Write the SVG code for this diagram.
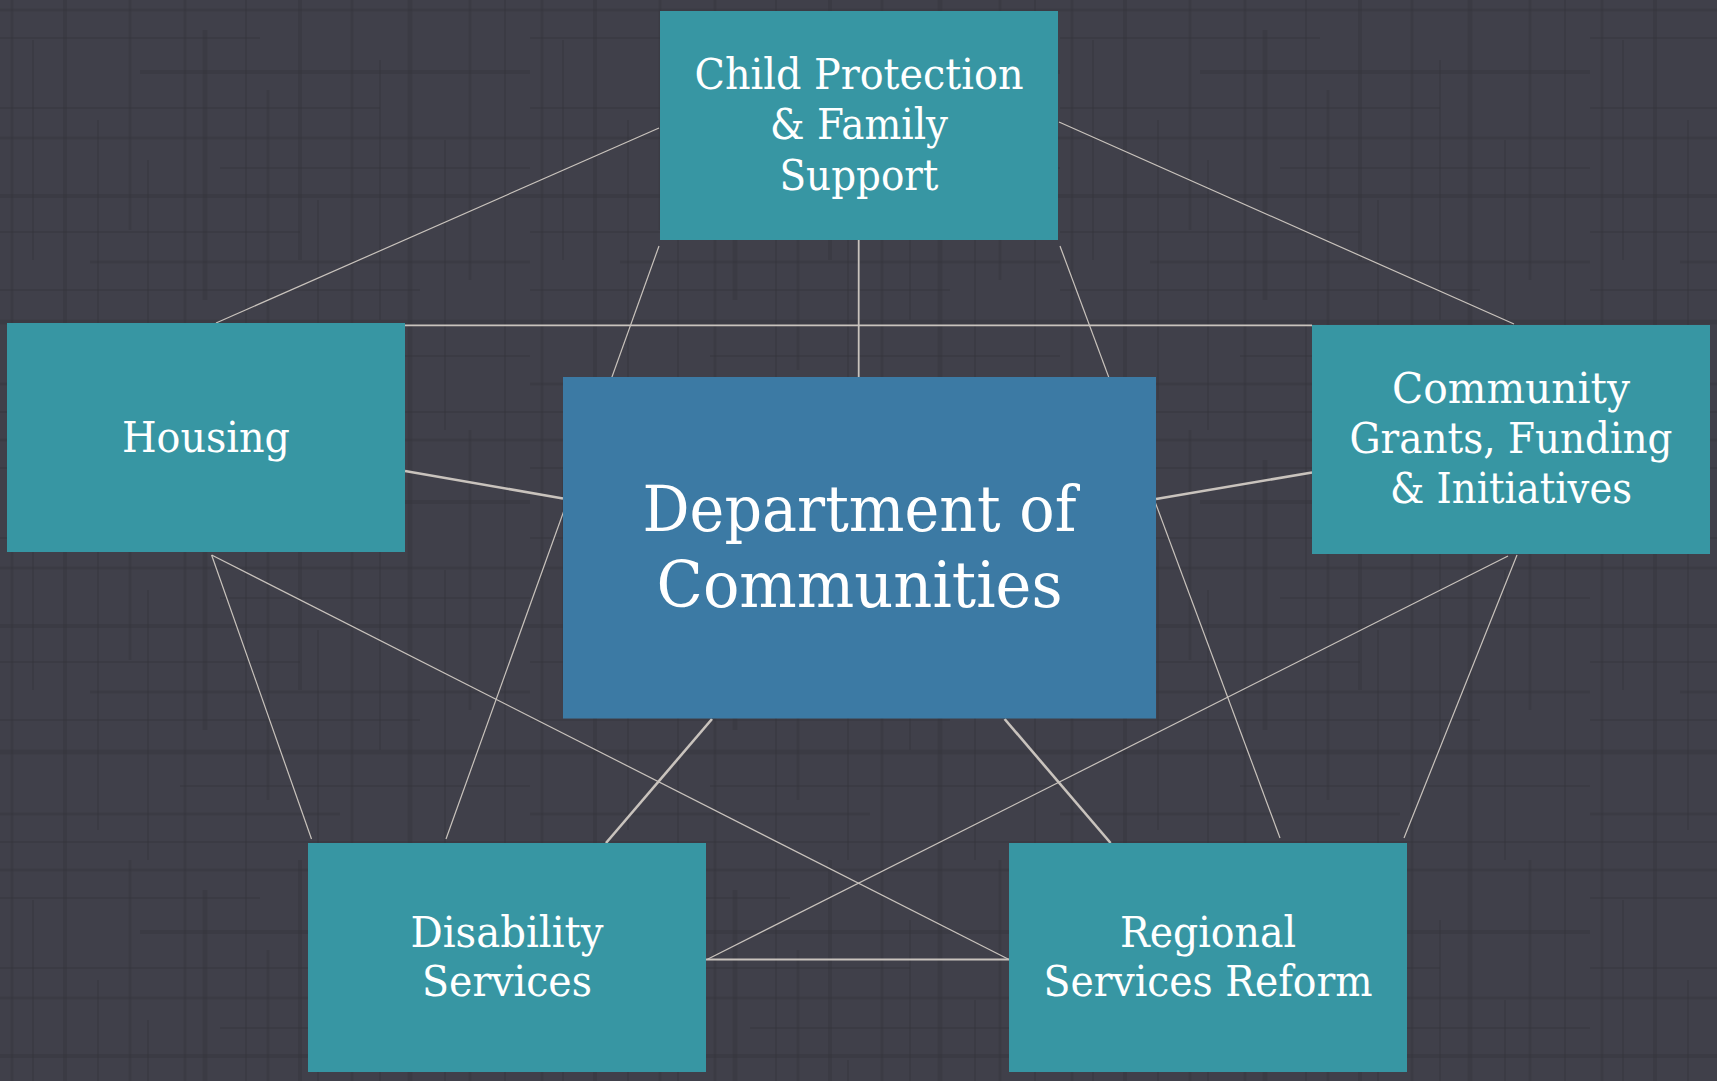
<svg xmlns="http://www.w3.org/2000/svg" width="1717" height="1081" viewBox="0 0 1717 1081">
<style>
.bg{fill:#40404a}
.tex line{stroke:#35353d;stroke-opacity:.5}
.node{fill:#3796a3}
.main{fill:#3c7aa4}
.lbl{font-family:"DejaVu Serif","Liberation Serif",serif;font-size:43px;fill:#ffffff;text-anchor:middle}
.big{font-size:64px}
.thin{stroke:#c9c3bd;stroke-width:1.2;fill:none}
.mid{stroke:#c9c3bd;stroke-width:1.8;fill:none}
.thick{stroke:#c9c3bd;stroke-width:2.6;fill:none}
</style>
<defs>
<pattern id="hatch" width="530" height="430" patternUnits="userSpaceOnUse">
<g class="tex">
<line x1="12" y1="0" x2="12" y2="430" stroke-width="3"/>
<line x1="33" y1="40" x2="33" y2="260" stroke-width="2"/>
<line x1="65" y1="0" x2="65" y2="430" stroke-width="4"/>
<line x1="98" y1="120" x2="98" y2="400" stroke-width="2"/>
<line x1="130" y1="0" x2="130" y2="230" stroke-width="3"/>
<line x1="148" y1="160" x2="148" y2="430" stroke-width="2"/>
<line x1="185" y1="0" x2="185" y2="430" stroke-width="3"/>
<line x1="205" y1="30" x2="205" y2="300" stroke-width="5"/>
<line x1="246" y1="0" x2="246" y2="430" stroke-width="2"/>
<line x1="268" y1="90" x2="268" y2="370" stroke-width="3"/>
<line x1="300" y1="0" x2="300" y2="260" stroke-width="4"/>
<line x1="318" y1="200" x2="318" y2="430" stroke-width="2"/>
<line x1="352" y1="0" x2="352" y2="430" stroke-width="3"/>
<line x1="380" y1="60" x2="380" y2="320" stroke-width="2"/>
<line x1="410" y1="0" x2="410" y2="430" stroke-width="5"/>
<line x1="445" y1="140" x2="445" y2="430" stroke-width="2"/>
<line x1="470" y1="0" x2="470" y2="280" stroke-width="3"/>
<line x1="505" y1="0" x2="505" y2="430" stroke-width="2"/>
<line x1="0" y1="10" x2="530" y2="10" stroke-width="3"/>
<line x1="0" y1="38" x2="260" y2="38" stroke-width="2"/>
<line x1="140" y1="72" x2="530" y2="72" stroke-width="4"/>
<line x1="0" y1="108" x2="380" y2="108" stroke-width="2"/>
<line x1="0" y1="138" x2="530" y2="138" stroke-width="3"/>
<line x1="220" y1="168" x2="530" y2="168" stroke-width="2"/>
<line x1="0" y1="196" x2="530" y2="196" stroke-width="4"/>
<line x1="0" y1="232" x2="300" y2="232" stroke-width="2"/>
<line x1="90" y1="262" x2="530" y2="262" stroke-width="3"/>
<line x1="0" y1="290" x2="420" y2="290" stroke-width="2"/>
<line x1="0" y1="322" x2="530" y2="322" stroke-width="5"/>
<line x1="180" y1="356" x2="530" y2="356" stroke-width="2"/>
<line x1="0" y1="384" x2="340" y2="384" stroke-width="3"/>
<line x1="0" y1="412" x2="530" y2="412" stroke-width="2"/>
</g>
</pattern>
</defs>
<rect class="bg" x="0" y="0" width="1717" height="1081"/>
<rect x="0" y="0" width="1717" height="1081" fill="url(#hatch)"/>

<g id="connectors">
<line class="thin" x1="659" y1="128" x2="216" y2="323"/>
<line class="thin" x1="1059" y1="122" x2="1514" y2="324"/>
<line class="thin" x1="211.6" y1="555" x2="311.5" y2="839"/>
<line class="thin" x1="1517" y1="555" x2="1404" y2="838"/>
<line class="mid" x1="706" y1="959.5" x2="1009" y2="959.5"/>
<line class="thin" x1="659" y1="246" x2="446" y2="839"/>
<line class="thin" x1="1060" y1="246" x2="1280" y2="838"/>
<line class="mid" x1="405" y1="325.3" x2="1312" y2="325.3"/>
<line class="thin" x1="211.6" y1="555" x2="1009" y2="959.5"/>
<line class="thin" x1="1508" y1="556" x2="707" y2="959.5"/>
<line class="mid" x1="858.7" y1="240" x2="858.7" y2="377"/>
<line class="thick" x1="405" y1="471" x2="563" y2="498.5"/>
<line class="thick" x1="1312" y1="472.5" x2="1156" y2="499"/>
<line class="thick" x1="712" y1="719" x2="606" y2="843"/>
<line class="thick" x1="1004.6" y1="719" x2="1110.6" y2="843"/>
</g>

<g id="node-child-protection">
<rect class="node" x="660" y="11" width="398" height="229"/>
<text class="lbl" x="859" y="88.5" textLength="329" lengthAdjust="spacingAndGlyphs">Child Protection</text>
<text class="lbl" x="859" y="138.5" textLength="178" lengthAdjust="spacingAndGlyphs">&amp; Family</text>
<text class="lbl" x="859" y="190" textLength="159" lengthAdjust="spacingAndGlyphs">Support</text>
</g>

<g id="node-housing">
<rect class="node" x="7" y="323" width="398" height="229"/>
<text class="lbl" x="206" y="452" textLength="168" lengthAdjust="spacingAndGlyphs">Housing</text>
</g>

<g id="node-community">
<rect class="node" x="1312" y="325" width="398" height="229"/>
<text class="lbl" x="1511" y="402.5" textLength="238" lengthAdjust="spacingAndGlyphs">Community</text>
<text class="lbl" x="1511" y="453" textLength="323" lengthAdjust="spacingAndGlyphs">Grants, Funding</text>
<text class="lbl" x="1511" y="503" textLength="242" lengthAdjust="spacingAndGlyphs">&amp; Initiatives</text>
</g>

<g id="node-department">
<rect class="main" x="563" y="377" width="593" height="341.5"/>
<text class="lbl big" x="859.5" y="531" textLength="434" lengthAdjust="spacingAndGlyphs">Department of</text>
<text class="lbl big" x="859.5" y="607" textLength="406" lengthAdjust="spacingAndGlyphs">Communities</text>
</g>

<g id="node-disability">
<rect class="node" x="308" y="843" width="398" height="229"/>
<text class="lbl" x="507" y="947" textLength="193" lengthAdjust="spacingAndGlyphs">Disability</text>
<text class="lbl" x="507" y="996" textLength="170" lengthAdjust="spacingAndGlyphs">Services</text>
</g>

<g id="node-regional">
<rect class="node" x="1009" y="843" width="398" height="229"/>
<text class="lbl" x="1208" y="947" textLength="176" lengthAdjust="spacingAndGlyphs">Regional</text>
<text class="lbl" x="1208" y="996" textLength="329" lengthAdjust="spacingAndGlyphs">Services Reform</text>
</g>
</svg>
